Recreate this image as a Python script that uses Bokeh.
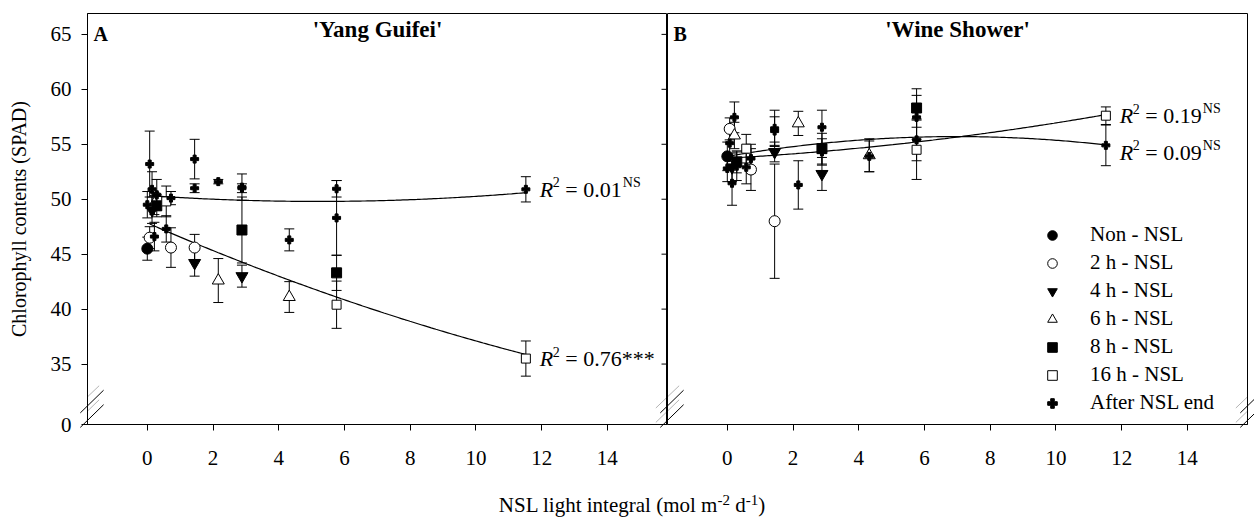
import numpy as np
from bokeh.plotting import figure
from bokeh.models import (ColumnDataSource, Range1d, FixedTicker, CustomJSTickFormatter,
                          Label, Legend, LegendItem, PolyAnnotation, Div)
from bokeh.layouts import row, column
from bokeh.embed import file_html
from bokeh.resources import INLINE

FONT = "Liberation Serif"

# NSL light integral (mol m-2 d-1) of every treatment
X_NON = [0.0]
X_2H = [0.072, 0.72, 1.44]
X_4H = [0.144, 1.44, 2.88]
X_6H = [0.216, 2.16, 4.32]
X_8H = [0.288, 2.88, 5.76]
X_16H = [0.576, 5.76, 11.52]
X_AFTER = [0.0, 0.072, 0.144, 0.216, 0.288, 0.576, 0.72, 1.44, 1.44,
           2.16, 2.88, 2.88, 4.32, 5.76, 5.76, 11.52]

# 'Yang Guifei' chlorophyll (SPAD) means and standard deviations
YG_NON = [45.5]
YG_NON_SD = [1.05]
YG_2H = [46.5, 45.6, 45.6]
YG_2H_SD = [1.0, 1.8, 1.2]
YG_4H = [49.0, 44.2, 43.0]
YG_4H_SD = [1.2, 1.2, 1.0]
YG_6H = [49.6, 42.6, 41.1]
YG_6H_SD = [1.0, 2.0, 1.4]
YG_8H = [49.4, 47.2, 43.3]
YG_8H_SD = [1.0, 3.0, 1.6]
YG_16H = [49.8, 40.4, 35.5]
YG_16H_SD = [1.4, 2.15, 1.6]
YG_AFTER = [49.5, 53.2, 50.9, 46.6, 50.4, 47.3, 50.1, 53.65, 51.0,
            51.6, 51.1, 51.0, 46.3, 50.95, 48.3, 50.9]
YG_AFTER_SD = [1.2, 3.0, 1.6, 1.3, 1.4, 1.2, 0.6, 1.8, 0.4,
               0.2, 1.2, 0.4, 1.0, 0.75, 3.4, 1.15]

# 'Wine Shower' chlorophyll (SPAD) means and standard deviations
WS_NON = [53.9]
WS_NON_SD = [1.3]
WS_2H = [56.4, 52.7, 48.0]
WS_2H_SD = [1.0, 1.9, 5.2]
WS_4H = [52.9, 54.3, 52.3]
WS_4H_SD = [1.3, 0.9, 1.5]
WS_6H = [55.8, 56.9, 54.0]
WS_6H_SD = [1.2, 1.1, 1.5]
WS_8H = [53.4, 54.6, 58.3]
WS_8H_SD = [1.0, 1.4, 1.75]
WS_16H = [54.6, 54.5, 57.6]
WS_16H_SD = [1.3, 2.7, 0.8]
WS_AFTER = [52.8, 55.1, 51.45, 57.45, 53.0, 52.9, 53.7, 56.45, 56.2,
            51.3, 56.55, 54.3, 53.9, 57.45, 55.4, 54.9]
WS_AFTER_SD = [1.2, 1.4, 2.0, 1.4, 1.3, 1.5, 1.3, 1.65, 1.3,
               2.2, 1.55, 1.2, 1.4, 2.0, 1.9, 1.85]

# quadratic regressions y = c0 + c1*x + c2*x^2
FIT_YG_NSL = [47.84, -1.3025, 0.02288]
FIT_YG_AFTER = [50.34, -0.208, 0.020]
FIT_WS_NSL = [53.73, 0.169, 0.01523]
FIT_WS_AFTER = [53.90, 0.516, -0.03695]

X_TICKS = [0, 2, 4, 6, 8, 10, 12, 14]
Y_TICKS = [29.5, 35, 40, 45, 50, 55, 60, 65]   # 29.5 is the broken-axis foot, shown as 0
X_LIMITS = (-1.82, 15.83)
Y_LIMITS = (29.5, 66.9)

LABELS = ["Non - NSL", "2 h - NSL", "4 h - NSL", "6 h - NSL",
          "8 h - NSL", "16 h - NSL", "After NSL end"]
# marker, fill colour, size
STYLES = [("circle", "black", 11),
          ("circle", "white", 11),
          ("inverted_triangle", "black", 12),
          ("triangle", "white", 12),
          ("square", "black", 10),
          ("square", "white", 9),
          ("plus", "black", 8)]

YG_SERIES = [(X_NON, YG_NON, YG_NON_SD), (X_2H, YG_2H, YG_2H_SD), (X_4H, YG_4H, YG_4H_SD),
             (X_6H, YG_6H, YG_6H_SD), (X_8H, YG_8H, YG_8H_SD), (X_16H, YG_16H, YG_16H_SD),
             (X_AFTER, YG_AFTER, YG_AFTER_SD)]
WS_SERIES = [(X_NON, WS_NON, WS_NON_SD), (X_2H, WS_2H, WS_2H_SD), (X_4H, WS_4H, WS_4H_SD),
             (X_6H, WS_6H, WS_6H_SD), (X_8H, WS_8H, WS_8H_SD), (X_16H, WS_16H, WS_16H_SD),
             (X_AFTER, WS_AFTER, WS_AFTER_SD)]

# page geometry (pixels)
LEFT_BORDER = 87
FRAME_W = 580
FRAME_H = 411
TOP_BORDER = 13
BOTTOM_BORDER = 46
RIGHT_BORDER = 7
FIG_H = TOP_BORDER + FRAME_H + BOTTOM_BORDER
PAGE_W = LEFT_BORDER + 2 * FRAME_W + RIGHT_BORDER


def style_axis(ax):
    ax.axis_line_color = "black"
    ax.major_tick_line_color = "black"
    ax.minor_tick_line_color = None
    ax.major_tick_out = 6
    ax.major_tick_in = 0
    ax.major_label_text_font = FONT
    ax.major_label_text_font_size = "21px"
    ax.major_label_text_color = "black"


def break_marks(p, x_axis):
    # two short slanted strokes across the vertical axis near its foot
    dx = 0.355
    for y0, y1 in [(29.69, 31.75), (31.0, 33.03)]:
        p.add_layout(PolyAnnotation(xs=[x_axis - dx, x_axis + dx], ys=[y0, y1],
                                    fill_alpha=0, line_color="black", line_width=1))


def r2_label(p, x, y, value, sup, dy=0):
    common = dict(x=x, y=y, text_font=FONT, text_color="black", text_baseline="middle")
    p.add_layout(Label(text="R", x_offset=14, y_offset=dy, text_font_size="22px",
                       text_font_style="italic", **common))
    p.add_layout(Label(text="2", x_offset=27, y_offset=dy + 7, text_font_size="14px", **common))
    p.add_layout(Label(text="= " + value, x_offset=39.5, y_offset=dy,
                       text_font_size="22px", **common))
    if sup:
        p.add_layout(Label(text=sup, x_offset=97, y_offset=dy + 7,
                           text_font_size="14px", **common))


def make_panel(series, fits, title, letter, first):
    p = figure(width=(LEFT_BORDER + FRAME_W) if first else (FRAME_W + RIGHT_BORDER), height=FIG_H,
               x_range=Range1d(*X_LIMITS), y_range=Range1d(*Y_LIMITS),
               output_backend="svg", toolbar_location=None,
               min_border_left=LEFT_BORDER if first else 0,
               min_border_right=0 if first else RIGHT_BORDER,
               min_border_top=TOP_BORDER, min_border_bottom=BOTTOM_BORDER)
    p.xgrid.visible = False
    p.ygrid.visible = False
    p.outline_line_color = "black"
    p.outline_line_width = 1
    p.background_fill_color = "white"
    p.border_fill_color = "white"

    p.xaxis.ticker = FixedTicker(ticks=X_TICKS)
    style_axis(p.xaxis[0])
    p.xaxis.major_label_standoff = 20

    if first:
        yax = p.yaxis[0]
        yax.ticker = FixedTicker(ticks=Y_TICKS)
        yax.formatter = CustomJSTickFormatter(code="return tick < 30 ? '0' : tick.toFixed(0);")
        style_axis(yax)
        yax.major_label_standoff = 10
        yax.axis_label = "Chlorophyll contents (SPAD)"
        yax.axis_label_text_font = FONT
        yax.axis_label_text_font_size = "20px"
        yax.axis_label_text_font_style = "normal"
        yax.axis_label_text_color = "black"
        yax.axis_label_standoff = 18
        # outward ticks of the neighbouring panel's y axis, cut at the frame edge
        n = len(Y_TICKS) - 1
        p.scatter([X_LIMITS[1]] * n, Y_TICKS[1:], marker="dash", size=12,
                  line_color="black", line_width=1)
    else:
        p.yaxis.visible = False
    break_marks(p, X_LIMITS[0])
    break_marks(p, X_LIMITS[1])

    # regression curves
    xs = np.linspace(X_2H[0], X_16H[-1], 160)
    for c in fits:
        p.line(xs, c[0] + c[1] * xs + c[2] * xs ** 2, line_color="black", line_width=1.2)

    # error bars
    for xv, yv, sd in series:
        xv = np.array(xv); yv = np.array(yv); sd = np.array(sd)
        src = ColumnDataSource(dict(x=xv, lo=yv - sd, hi=yv + sd))
        p.segment(x0="x", y0="lo", x1="x", y1="hi", source=src, line_color="black", line_width=1)
        p.scatter("x", "lo", source=src, marker="dash", size=10, line_color="black", line_width=1)
        p.scatter("x", "hi", source=src, marker="dash", size=10, line_color="black", line_width=1)

    renderers = []
    for (xv, yv, sd), (marker, fill, size) in zip(series, STYLES):
        r = p.scatter(xv, yv, marker=marker, size=size, fill_color=fill,
                      line_color="black", line_width=1)
        renderers.append(r)

    p.add_layout(Label(x=(X_LIMITS[0] + X_LIMITS[1]) / 2, y=Y_LIMITS[1], y_offset=-3,
                       text=title, text_font=FONT, text_font_size="23px", text_color="black",
                       text_font_style="bold", text_align="center", text_baseline="top"))
    p.add_layout(Label(x=X_LIMITS[0], y=Y_LIMITS[1], x_offset=6, y_offset=-9,
                       text=letter, text_font=FONT, text_font_size="20px", text_color="black",
                       text_font_style="bold", text_baseline="top"))
    return p, renderers


pA, _ = make_panel(YG_SERIES, [FIT_YG_AFTER, FIT_YG_NSL], "'Yang Guifei'", "A", True)
pB, rB = make_panel(WS_SERIES, [FIT_WS_AFTER, FIT_WS_NSL], "'Wine Shower'", "B", False)

r2_label(pA, X_AFTER[-1], YG_AFTER[-1], "0.01", "NS")
r2_label(pA, X_16H[-1], YG_16H[-1], "0.76***", None)
r2_label(pB, X_16H[-1], WS_16H[-1], "0.19", "NS")
r2_label(pB, X_AFTER[-1], WS_AFTER[-1], "0.09", "NS", dy=-7)

legend = Legend(items=[LegendItem(label=l, renderers=[r]) for l, r in zip(LABELS, rB)],
                location=(373, 9), padding=0, margin=0, spacing=3,
                glyph_width=24, glyph_height=24, label_height=24, label_standoff=26,
                label_text_font=FONT, label_text_font_size="21px", label_text_color="black",
                border_line_alpha=0, background_fill_alpha=0)
pB.add_layout(legend, "center")

# the axis-break strokes reach past the plot frames, so they are also drawn as an overlay
foot = TOP_BORDER + FRAME_H
strokes = []
for ax_px in (LEFT_BORDER, LEFT_BORDER + FRAME_W, LEFT_BORDER + 2 * FRAME_W):
    for lift in (0, 14.5):
        strokes.append('<line x1="%.1f" y1="%.1f" x2="%.1f" y2="%.1f" stroke="black" stroke-width="1"/>'
                       % (ax_px - 11.7, foot - 1.6 - lift, ax_px + 11.6, foot - 24.3 - lift))
overlay = ('<div style="position:relative;height:0;width:%dpx">'
           '<svg width="%d" height="%d" style="position:absolute;left:0;top:-%dpx;overflow:visible;z-index:5">'
           '%s</svg></div>' % (PAGE_W, PAGE_W, foot + 5, FIG_H, "".join(strokes)))

sup = '<span style="position:relative;top:-0.5em;font-size:15px">%s</span>'
title_html = ('<div style="width:%dpx;text-align:center;padding-top:20px;line-height:21px">'
              'NSL light integral (mol m' % PAGE_W + sup % "-2" + ' d' + sup % "-1" + ')</div>')
x_title = Div(text=overlay + title_html, width=PAGE_W, height=517 - FIG_H,
              styles={"font-family": FONT, "font-size": "21px", "color": "black",
                      "overflow": "visible"})

layout = column(row(pA, pB, spacing=0), x_title, spacing=0)
open("out.html", "w").write(file_html(layout, INLINE))
